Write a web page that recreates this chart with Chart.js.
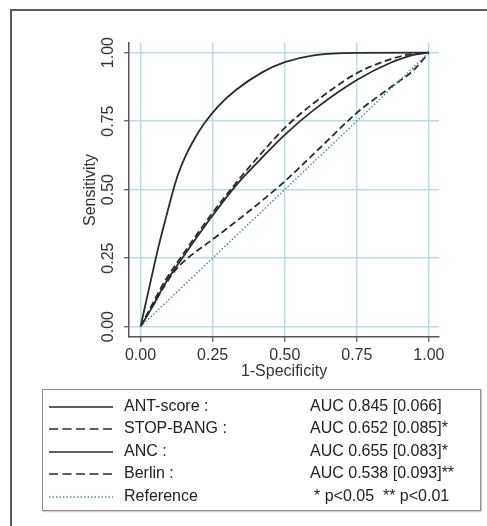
<!DOCTYPE html>
<html>
<head>
<meta charset="utf-8">
<script src="https://cdn.jsdelivr.net/npm/chart.js@4.4.1/dist/chart.umd.min.js"></script>
<style>
  html, body { margin: 0; overflow: hidden; }
  body { width: 487px; height: 526px; background: #fff; font-family: "Liberation Sans", Arial, sans-serif; }
  #frame { position: absolute; left: 10px; top: 9px; width: 477px; height: 517px;
           border-left: 2px solid #5c5c5c; border-top: 2px solid #5c5c5c; box-sizing: border-box; }
  #roc { position: absolute; left: 0; top: 0; }
  #legend { position: absolute; left: 42px; top: 389px; width: 437px; height: 120px;
            border: 1.5px solid #8e8e8e; box-shadow: 1px 1px 1px #d0d0d0; background: #fff; }
  .row { position: absolute; left: 0; width: 100%; height: 22px; line-height: 22px;
         font-size: 16px; color: #222; }
  .row svg { position: absolute; left: 6px; top: 10px; }
  .row .name { position: absolute; left: 81px; }
  .row .auc { position: absolute; left: 267px; white-space: pre; }
</style>
</head>
<body>
<div id="frame"></div>
<canvas id="roc" width="487" height="400"></canvas>
<div id="legend"></div>
<script>
// tick positions
const tickValues = [0, 0.25, 0.5, 0.75, 1];

// ROC curves (x = 1-specificity, y = sensitivity)
const antX = [0, 0.035, 0.062, 0.09, 0.11, 0.13, 0.155, 0.18, 0.22, 0.27, 0.333, 0.42, 0.5, 0.6, 0.75, 1];
const antY = [0, 0.165, 0.29, 0.405, 0.485, 0.555, 0.62, 0.672, 0.74, 0.805, 0.865, 0.927, 0.965, 0.99, 0.999, 1];

const stopX = [0, 0.04, 0.084, 0.148, 0.246, 0.32, 0.425, 0.5, 0.6, 0.75, 0.865, 0.93, 1];
const stopY = [0, 0.08, 0.165, 0.265, 0.41, 0.51, 0.64, 0.725, 0.815, 0.925, 0.975, 0.993, 1];

const ancX = [0, 0.04, 0.084, 0.148, 0.246, 0.335, 0.42, 0.5, 0.6, 0.75, 0.865, 0.94, 1];
const ancY = [0, 0.07, 0.155, 0.255, 0.40, 0.52, 0.615, 0.70, 0.79, 0.90, 0.962, 0.99, 1];

const berlinX = [0, 0.04, 0.084, 0.12, 0.158, 0.25, 0.375, 0.5, 0.62, 0.75, 0.865, 0.946, 1];
const berlinY = [0, 0.072, 0.15, 0.205, 0.245, 0.318, 0.42, 0.53, 0.65, 0.78, 0.872, 0.935, 1];

const refX = [0, 1];
const refY = [0, 1];

// legend text
const seriesNames = ['ANT-score :', 'STOP-BANG :', 'ANC :', 'Berlin :', 'Reference'];
const aucLabels = ['AUC 0.845 [0.066]', 'AUC 0.652 [0.085]*', 'AUC 0.655 [0.083]*', 'AUC 0.538 [0.093]**', '* p<0.05  ** p<0.01'];

const ink = '#2b2b2b';
const teal = '#4a8f9d';
const family = '"Liberation Sans", Arial, sans-serif';

const toPoints = (xs, ys) => xs.map((x, i) => ({ x: x, y: ys[i] }));

const curve = (label, xs, ys, dash, color) => ({
    label: label,
    data: toPoints(xs, ys),
    borderColor: color || ink,
    borderWidth: color ? 1.5 : 1.8,
    borderDash: dash,
    pointRadius: 0,
    fill: false,
    cubicInterpolationMode: 'monotone'
});

const setTicks = (axis) => { axis.ticks = tickValues.map(v => ({ value: v })); };

new Chart(document.getElementById('roc'), {
    type: 'line',
    data: {
        datasets: [
            curve(seriesNames[4], refX, refY, [1.5, 2], teal),
            curve(seriesNames[3], berlinX, berlinY, [7, 3.5]),
            curve(seriesNames[2], ancX, ancY, []),
            curve(seriesNames[1], stopX, stopY, [7, 3.5]),
            curve(seriesNames[0], antX, antY, [])
        ]
    },
    options: {
        responsive: false,
        animation: false,
        layout: { padding: { left: 81, right: 48, top: 43, bottom: 19 } },
        plugins: { legend: { display: false }, tooltip: { enabled: false } },
        scales: {
            x: {
                type: 'linear',
                min: -0.04,
                max: 1.035,
                afterBuildTicks: setTicks,
                afterFit: (s) => { s.height = 44; },
                border: { color: '#555', width: 1.5 },
                grid: { color: '#b9dde5', lineWidth: 1.5, tickColor: '#555', tickLength: 5, tickWidth: 1.2 },
                ticks: {
                    color: '#333', padding: 4, maxRotation: 0, autoSkip: false,
                    font: { size: 16, family: family },
                    callback: (v) => Number(v).toFixed(2)
                },
                title: {
                    display: true, text: '1-Specificity', color: '#333',
                    font: { size: 16, family: family }, padding: { top: 0, bottom: 0 }
                }
            },
            y: {
                type: 'linear',
                min: -0.038,
                max: 1.035,
                afterBuildTicks: setTicks,
                afterFit: (s) => { s.width = 48; },
                border: { color: '#555', width: 1.5 },
                grid: { color: '#b9dde5', lineWidth: 1.5, tickColor: '#555', tickLength: 5, tickWidth: 1.2 },
                ticks: {
                    color: '#333', padding: 0, minRotation: 90, maxRotation: 90,
                    crossAlign: 'center', autoSkip: false,
                    font: { size: 16, family: family },
                    callback: (v) => Number(v).toFixed(2)
                },
                title: {
                    display: true, text: 'Sensitivity', color: '#333',
                    font: { size: 16, family: family }, padding: { top: 0, bottom: 0 }
                }
            }
        }
    }
});

// legend box below the plot
const dashes = ['', '9 4.5', '', '9 4.5', '1.5 2'];
const legend = document.getElementById('legend');
seriesNames.forEach((name, i) => {
    const row = document.createElement('div');
    row.className = 'row';
    row.style.top = (5 + i * 22.4) + 'px';
    const stroke = i === 4 ? teal : ink;
    row.innerHTML =
        '<svg width="66" height="4"><line x1="0" y1="2" x2="64" y2="2" stroke="' + stroke +
        '" stroke-width="1.6" stroke-dasharray="' + dashes[i] + '"/></svg>' +
        '<span class="name"></span><span class="auc"></span>';
    row.querySelector('.name').textContent = name;
    row.querySelector('.auc').textContent = aucLabels[i];
    if (i === 4) row.querySelector('.auc').style.left = '271px';
    legend.appendChild(row);
});
</script>
</body>
</html>
